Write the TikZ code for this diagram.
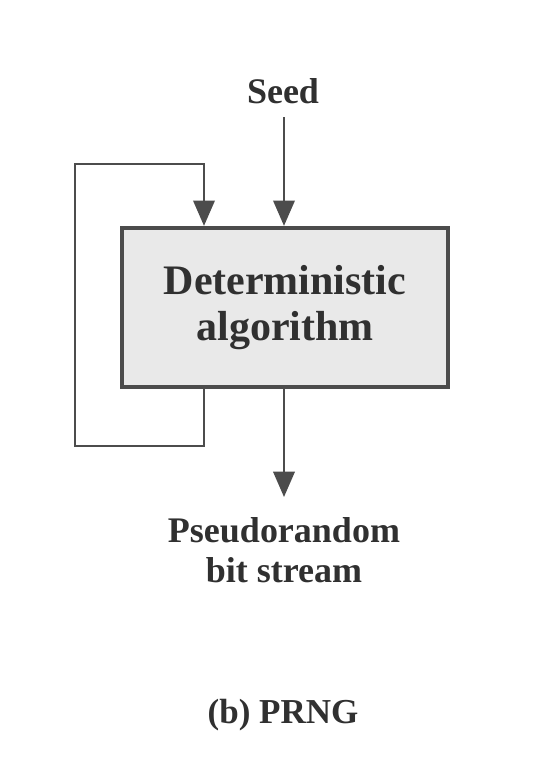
\documentclass[tikz,border=0pt]{standalone}
\usepackage{fontspec}
\setmainfont{Liberation Serif}
\usetikzlibrary{arrows.meta}
\definecolor{linegray}{HTML}{4C4C4C}
\definecolor{textgray}{HTML}{303030}
\definecolor{boxfill}{HTML}{E9E9E9}
\tikzset{
  arr/.style={draw=linegray, line width=1.9pt, -{Triangle[width=16pt,length=19pt]}},
  algobox/.style={draw=linegray, fill=boxfill, line width=3.2pt, minimum width=244.5pt,
    minimum height=119.25pt, inner sep=0pt, align=center, text=textgray,
    font=\bfseries\fontsize{31.5}{34.5}\selectfont},
  lbl/.style={text=textgray, align=center, inner sep=0pt, font=\bfseries\fontsize{27}{30}\selectfont},
  caplbl/.style={text=textgray, inner sep=0pt, font=\bfseries\fontsize{26.25}{30}\selectfont}
}
\begin{document}
\begin{tikzpicture}[x=0.75pt,y=-0.75pt]
\useasboundingbox[fill=white] (0,0) rectangle (554,769);
\node[algobox] (box) at (285,307.5) {Deterministic\\algorithm};
\node[lbl, anchor=base] (seed) at (283,103) {Seed};
\node[lbl, anchor=base] (out) at (284,582) {Pseudorandom\\bit stream};
\node[caplbl, anchor=base] (cap) at (283,723) {(b) PRNG};
\coordinate (seedtop) at (284,117);
\coordinate (outend) at (284,497);
\coordinate (fbx) at (204,0);
\coordinate (fbbr) at (204,446);
\coordinate (fbbl) at (75,446);
\coordinate (fbtl) at (75,164);
\coordinate (fbtr) at (204,164);
\draw[arr] (seedtop) -- (seedtop |- box.north);
\draw[arr] (box.south -| outend) -- (outend);
\draw[arr] (fbx |- box.south) -- (fbbr) -- (fbbl) -- (fbtl) -- (fbtr) -- (fbx |- box.north);
\end{tikzpicture}
\end{document}
